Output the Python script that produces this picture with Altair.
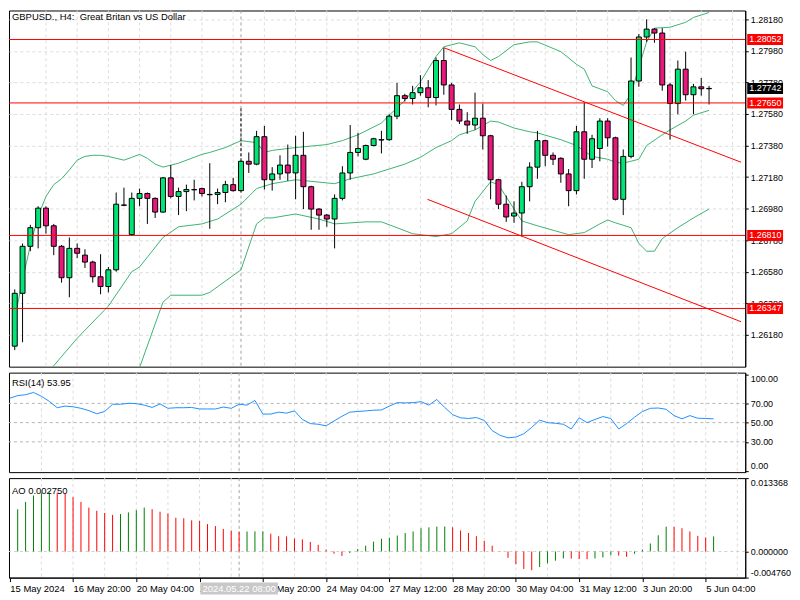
import altair as alt
import pandas as pd

# ---------------- data ----------------
TITLE = "GBPUSD., H4:\u00a0 Great Britan vs US Dollar"

opens = [1.26108, 1.26443, 1.26741, 1.26859, 1.26983, 1.26871, 1.26741, 1.26542, 1.26728, 1.26685,
         1.26641, 1.26548, 1.26486, 1.26592, 1.27001, 1.26815, 1.27045, 1.27076, 1.27045, 1.26958,
         1.27175, 1.27057, 1.27088, 1.27101, 1.27107, 1.27070, 1.27070, 1.27082, 1.27132, 1.27094,
         1.27280, 1.27262, 1.27436, 1.27163, 1.27200, 1.27256, 1.27206, 1.27318, 1.27119, 1.26977,
         1.26939, 1.26914, 1.27045, 1.27206, 1.27336, 1.27293, 1.27380, 1.27417, 1.27417, 1.27566,
         1.27696, 1.27678, 1.27715, 1.27746, 1.27684, 1.27919, 1.27764, 1.27609, 1.27535, 1.27510,
         1.27553, 1.27442, 1.27163, 1.27008, 1.26933, 1.26952, 1.27119, 1.27243, 1.27411, 1.27318,
         1.27299, 1.27200, 1.27094, 1.27467, 1.27293, 1.27361, 1.27535, 1.27429, 1.27039, 1.27311,
         1.27789, 1.28068, 1.28118, 1.28093, 1.27764, 1.27646, 1.27864, 1.27702, 1.27752, 1.27740]
highs = [1.26468, 1.26759, 1.26877, 1.26995, 1.26995, 1.26883, 1.26750, 1.26797, 1.26759, 1.26722,
         1.26650, 1.26691, 1.26610, 1.27082, 1.27113, 1.27082, 1.27107, 1.27082, 1.27051, 1.27181,
         1.27256, 1.27113, 1.27132, 1.27163, 1.27113, 1.27268, 1.27107, 1.27156, 1.27175, 1.27293,
         1.27336, 1.27473, 1.27504, 1.27243, 1.27318, 1.27386, 1.27442, 1.27467, 1.27125, 1.26983,
         1.26946, 1.27070, 1.27249, 1.27510, 1.27460, 1.27386, 1.27429, 1.27473, 1.27578, 1.27777,
         1.27708, 1.27758, 1.27826, 1.27795, 1.27938, 1.28000, 1.27777, 1.27640, 1.27591, 1.27715,
         1.27646, 1.27448, 1.27169, 1.27063, 1.27026, 1.27150, 1.27274, 1.27473, 1.27417, 1.27336,
         1.27305, 1.27231, 1.27504, 1.27653, 1.27448, 1.27553, 1.27553, 1.27436, 1.27355, 1.27938,
         1.28087, 1.28180, 1.28124, 1.28124, 1.27777, 1.27919, 1.27975, 1.27771, 1.27808, 1.27758]
lows = [1.26083, 1.26133, 1.26710, 1.26728, 1.26821, 1.26685, 1.26511, 1.26418, 1.26666, 1.26604,
        1.26511, 1.26437, 1.26449, 1.26580, 1.26995, 1.26810, 1.26995, 1.26883, 1.26921, 1.26955,
        1.27045, 1.26939, 1.26964, 1.27032, 1.27057, 1.26852, 1.27008, 1.27020, 1.27088, 1.27082,
        1.27206, 1.27255, 1.27101, 1.27094, 1.27163, 1.27156, 1.27039, 1.26977, 1.26846, 1.26846,
        1.26865, 1.26728, 1.27032, 1.27163, 1.27311, 1.27287, 1.27375, 1.27330, 1.27410, 1.27547,
        1.27659, 1.27640, 1.27696, 1.27622, 1.27634, 1.27702, 1.27541, 1.27516, 1.27454, 1.27479,
        1.27355, 1.27039, 1.26977, 1.26896, 1.26890, 1.26803, 1.27026, 1.27169, 1.27249, 1.27256,
        1.27144, 1.26995, 1.27070, 1.27169, 1.27237, 1.27280, 1.27373, 1.27032, 1.26939, 1.27299,
        1.27752, 1.28037, 1.28031, 1.27727, 1.27417, 1.27578, 1.27665, 1.27578, 1.27696, 1.27640]
closes = [1.26443, 1.26741, 1.26859, 1.26983, 1.26871, 1.26741, 1.26542, 1.26728, 1.26697, 1.26641,
          1.26548, 1.26486, 1.26592, 1.27008, 1.27003, 1.27045, 1.27076, 1.27045, 1.26958, 1.27175,
          1.27057, 1.27088, 1.27101, 1.27099, 1.27076, 1.27068, 1.27082, 1.27132, 1.27094, 1.27280,
          1.27262, 1.27436, 1.27163, 1.27200, 1.27256, 1.27206, 1.27318, 1.27119, 1.26977, 1.26939,
          1.26914, 1.27045, 1.27206, 1.27336, 1.27361, 1.27380, 1.27423, 1.27415, 1.27566, 1.27696,
          1.27678, 1.27715, 1.27746, 1.27684, 1.27919, 1.27764, 1.27609, 1.27535, 1.27510, 1.27553,
          1.27442, 1.27163, 1.27008, 1.26927, 1.26952, 1.27119, 1.27243, 1.27411, 1.27318, 1.27293,
          1.27200, 1.27094, 1.27467, 1.27293, 1.27423, 1.27535, 1.27429, 1.27039, 1.27311, 1.27789,
          1.28068, 1.28118, 1.28093, 1.27764, 1.27646, 1.27864, 1.27702, 1.27752, 1.27740, 1.27742]

# Bollinger bands (read at these bar indices)
ub_i = [0, 1, 2, 3, 4, 5, 6, 7, 8, 9, 10, 11, 12, 13, 14, 15, 16, 17, 18, 19, 21, 24, 25, 27, 29, 31, 32, 33,
        36, 40, 42, 44, 47, 48, 50, 52, 53, 54, 55, 57, 59, 60, 61, 62, 64, 66, 67, 70, 72, 73, 74, 76, 77,
        78, 79, 80, 81, 82, 84, 86, 87, 89]
ub_v = [1.26282, 1.26530, 1.26747, 1.26933, 1.27057, 1.27132, 1.27169, 1.27225, 1.27287, 1.27311, 1.27318,
        1.27318, 1.27311, 1.27299, 1.27287, 1.27305, 1.27324, 1.27299, 1.27262, 1.27243, 1.27268, 1.27324,
        1.27336, 1.27367, 1.27411, 1.27398, 1.27336, 1.27349, 1.27367, 1.27386, 1.27411, 1.27448, 1.27522,
        1.27572, 1.27665, 1.27783, 1.27864, 1.27944, 1.28006, 1.28031, 1.28006, 1.27957, 1.27919, 1.27944,
        1.28019, 1.28037, 1.28037, 1.27975, 1.27895, 1.27864, 1.27758, 1.27721, 1.27665, 1.27634, 1.27708,
        1.27876, 1.28037, 1.28124, 1.28130, 1.28161, 1.28192, 1.28223]
mb_i = [4, 5, 8, 12, 15, 16, 19, 21, 24, 26, 29, 31, 33, 36, 41, 43, 46, 48, 50, 52, 54, 56, 57, 59, 61, 62,
        64, 66, 67, 70, 72, 74, 76, 77, 78, 80, 81, 83, 84, 86, 87, 89]
mb_v = [1.25910, 1.25984, 1.26158, 1.26362, 1.26580, 1.26610, 1.26797, 1.26865, 1.26883, 1.26914, 1.27008,
        1.27107, 1.27138, 1.27163, 1.27138, 1.27169, 1.27200, 1.27231, 1.27262, 1.27305, 1.27367, 1.27411,
        1.27448, 1.27479, 1.27535, 1.27529, 1.27491, 1.27467, 1.27460, 1.27417, 1.27380, 1.27311, 1.27293,
        1.27274, 1.27268, 1.27293, 1.27380, 1.27448, 1.27479, 1.27535, 1.27572, 1.27603]
lb_i = [15, 16, 19, 20, 24, 25, 29, 31, 32, 33, 36, 39, 41, 45, 47, 49, 51, 54, 56, 58, 59, 61, 62, 64, 65,
        67, 71, 73, 75, 76, 77, 79, 80, 81, 82, 83, 85, 87, 89]
lb_v = [1.25785, 1.25972, 1.26387, 1.26431, 1.26431, 1.26449, 1.26592, 1.26883, 1.26921, 1.26921, 1.26946,
        1.26914, 1.26883, 1.26896, 1.26896, 1.26859, 1.26821, 1.26803, 1.26821, 1.26902, 1.27026, 1.27150,
        1.27132, 1.26977, 1.26902, 1.26871, 1.26815, 1.26828, 1.26883, 1.26908, 1.26890, 1.26859, 1.26759,
        1.26710, 1.26710, 1.26790, 1.26859, 1.26921, 1.26977]

levels = [1.28052, 1.27650, 1.26810, 1.26347]
trend_line = ["upper", "upper", "lower", "lower"]
trend_i = [55.0, 93.1, 52.9, 93.1]
trend_p = [1.28000, 1.27274, 1.27039, 1.26263]

price_ticks = [1.26180, 1.26380, 1.26580, 1.26780, 1.26980, 1.27180, 1.27380, 1.27580, 1.27780, 1.27980, 1.28180]

rsi = [75.4, 78.1, 79.0, 81.4, 77.4, 72.1, 65.5, 67.2, 66.5, 64.9,
       62.5, 59.2, 61.6, 69.1, 69.1, 70.1, 69.8, 68.2, 65.8, 69.5,
       64.9, 65.5, 65.5, 65.8, 64.2, 64.2, 64.2, 66.2, 64.9, 69.1,
       68.2, 73.1, 58.9, 58.9, 60.9, 59.9, 62.2, 53.3, 49.0, 48.3,
       46.7, 51.7, 56.6, 60.9, 61.6, 62.2, 62.9, 63.2, 67.2, 70.8,
       70.5, 70.8, 71.8, 68.2, 74.1, 65.8, 58.3, 55.0, 54.3, 55.3,
       52.3, 41.7, 36.8, 34.2, 35.0, 38.4, 45.0, 52.6, 50.0, 49.3,
       48.3, 43.4, 55.0, 50.0, 53.3, 56.3, 54.3, 43.4, 49.0, 55.6,
       61.6, 64.9, 65.2, 63.9, 57.3, 54.0, 57.3, 54.6, 54.3, 53.95]
rsi_levels = [30, 50, 70]
rsi_ticks = [0, 30, 50, 70, 100]

ao_start = 1
ao = [0.00770, 0.00903, 0.01019, 0.01071, 0.01075, 0.01068, 0.01062, 0.00990, 0.00903, 0.00799,
      0.00741, 0.00701, 0.00666, 0.00683, 0.00712, 0.00753, 0.00799, 0.00770, 0.00724, 0.00695,
      0.00614, 0.00605, 0.00567, 0.00556, 0.00498, 0.00463, 0.00411, 0.00382, 0.00362, 0.00364,
      0.00366, 0.00368, 0.00324, 0.00278, 0.00276, 0.00237, 0.00220, 0.00174, 0.00122, 0.00035,
      -0.00041, -0.00081, -0.00029, 0.00046, 0.00104, 0.00179, 0.00232, 0.00249, 0.00290, 0.00336,
      0.00365, 0.00423, 0.00440, 0.00452, 0.00454, 0.00440, 0.00382, 0.00336, 0.00278, 0.00191,
      0.00104, -0.00005, -0.00116, -0.00232, -0.00318, -0.00342, -0.00284, -0.00214, -0.00168, -0.00127,
      -0.00130, -0.00139, -0.00141, -0.00127, -0.00110, -0.00069, -0.00075, -0.00098, -0.00041, 0.00035,
      0.00145, 0.00295, 0.00452, 0.00448, 0.00423, 0.00365, 0.00285, 0.00255, 0.00275]
ao_ticks = [-0.004760, 0.0, 0.013368]

tick_idx = [0, 8, 16, 24, 32, 40, 48, 56, 64, 72, 80, 88]
date_labels = ["15 May 2024", "16 May 20:00", "20 May 04:00", "21 May 12:00", "22 May 20:00",
               "24 May 04:00", "27 May 12:00", "28 May 20:00", "30 May 04:00", "31 May 12:00",
               "3 Jun 20:00", "5 Jun 04:00"]
grid_idx = list(range(4, 93, 4))

cursor_i = 29
cursor_top = 1.27615
cursor_label = "2024.05.22 08:00"
rsi_title = "RSI(14) 53.95"
ao_title = "AO 0.002750"

# ---------------- styling ----------------
W, H1, H2, H3 = 740, 358, 100, 100
FONT = "Liberation Sans"
GRID = "#dcdcdc"
UP, DOWN = "#00E676", "#E8197A"
BAND = "#3CB371"
RED = "#FF0000"

xs = alt.Scale(domain=[-0.1, 93.0], nice=False, zero=False)
ys = alt.Scale(domain=[1.25978, 1.28236], nice=False, zero=False)
xn = alt.X("i:Q", scale=xs, axis=None)

price_axis = alt.Axis(orient="right", values=price_ticks, format=".5f", grid=True, gridColor=GRID,
                      gridDash=[3, 3], title=None, tickSize=3, labelPadding=2, labelFontSize=9,
                      labelFont=FONT, domainColor="black", tickColor="black", labelColor="black")


def Y(f):
    return alt.Y(f, type="quantitative", scale=ys, axis=price_axis)


BOX = "M-1,-0.3056L1,-0.3056L1,0.3056L-1,0.3056Z"

# ---------------- main pane ----------------
candles = pd.DataFrame({"i": list(range(len(opens))), "o": opens, "h": highs, "l": lows, "c": closes})
bands = pd.concat([
    pd.DataFrame({"i": ub_i, "p": ub_v, "band": "upper"}),
    pd.DataFrame({"i": mb_i, "p": mb_v, "band": "middle"}),
    pd.DataFrame({"i": lb_i, "p": lb_v, "band": "lower"}),
])
trends = pd.DataFrame({"i": trend_i, "p": trend_p, "line": trend_line})
grid_df = pd.DataFrame({"i": grid_idx})
cur_df = pd.DataFrame({"i": [cursor_i], "p1": [cursor_top], "p2": [highs[cursor_i]]})
lev_df = pd.DataFrame({"p": levels})
last_df = pd.DataFrame({"p": [closes[-1]]})
title_df = pd.DataFrame({"t": [TITLE]})

vgrid = alt.Chart(grid_df).mark_rule(color=GRID, strokeDash=[3, 3], strokeWidth=1).encode(x=xn)
cursor = alt.Chart(cur_df).mark_rule(color="#a0a0a0", strokeDash=[3, 3], strokeWidth=1).encode(x=xn)
band_lines = alt.Chart(bands).mark_line(color=BAND, strokeWidth=1, clip=True).encode(
    x=xn, y=Y("p"), detail="band:N")
wicks = alt.Chart(candles).mark_rule(color="black", strokeWidth=1, clip=True).encode(
    x=xn, y=Y("l"), y2="h")
bodies = alt.Chart(candles).mark_bar(size=5, stroke="black", strokeWidth=1, clip=True).encode(
    x=xn, y=Y("o"), y2="c",
    fill=alt.condition("datum.c >= datum.o", alt.value(UP), alt.value(DOWN)))
cursor_blk = alt.Chart(cur_df).mark_rule(color="black", strokeDash=[3, 2], strokeWidth=1).encode(
    x=xn, y=Y("p1"), y2="p2")
hlines = alt.Chart(lev_df).mark_rule(color=RED, strokeWidth=1).encode(y=Y("p"))
tlines = alt.Chart(trends).mark_line(color=RED, strokeWidth=1, clip=True).encode(
    x=xn, y=Y("p"), detail="line:N")
box_red = alt.Chart(lev_df).mark_point(shape=BOX, size=36 * 36, filled=True, color=RED, opacity=1,
                                       strokeOpacity=0).encode(x=alt.value(W + 20), y=Y("p"))
txt_red = alt.Chart(lev_df).mark_text(align="left", baseline="middle", color="white", fontSize=9,
                                      font=FONT).encode(x=alt.value(W + 4), y=Y("p"),
                                                        text=alt.Text("p:Q", format=".5f"))
box_blk = alt.Chart(last_df).mark_point(shape=BOX, size=36 * 36, filled=True, color="black", opacity=1,
                                        strokeOpacity=0).encode(x=alt.value(W + 20), y=Y("p"))
txt_blk = alt.Chart(last_df).mark_text(align="left", baseline="middle", color="white", fontSize=9,
                                       font=FONT).encode(x=alt.value(W + 4), y=Y("p"),
                                                         text=alt.Text("p:Q", format=".5f"))
title = alt.Chart(title_df).mark_text(align="left", baseline="middle", fontSize=9.5, font=FONT,
                                      color="black").encode(x=alt.value(3), y=alt.value(7), text="t:N")

main = alt.layer(vgrid, cursor, band_lines, wicks, bodies, cursor_blk, hlines, tlines,
                 box_red, txt_red, box_blk, txt_blk, title).properties(width=W, height=H1)

# ---------------- RSI pane ----------------
ry = alt.Scale(domain=[-1.5, 102], nice=False, zero=False)
rsi_axis = alt.Axis(orient="right", values=rsi_ticks, format=".2f", grid=False, title=None, tickSize=3,
                    labelPadding=2, labelFontSize=9, labelFont=FONT, labelFlush=6,
                    domainColor="black", tickColor="black", labelColor="black")


def RY(f):
    return alt.Y(f, type="quantitative", scale=ry, axis=rsi_axis)


rsi_df = pd.DataFrame({"i": list(range(len(rsi))), "v": rsi})
rl_df = pd.DataFrame({"v": rsi_levels})
rsi_chart = alt.layer(
    alt.Chart(grid_df).mark_rule(color=GRID, strokeDash=[3, 3]).encode(x=xn),
    alt.Chart(cur_df).mark_rule(color="#a0a0a0", strokeDash=[3, 3]).encode(x=xn),
    alt.Chart(rl_df).mark_rule(color="#b4b4b4", strokeDash=[3, 3]).encode(y=RY("v")),
    alt.Chart(rsi_df).mark_line(color="#1E90FF", strokeWidth=1, clip=True).encode(x=xn, y=RY("v")),
    alt.Chart(pd.DataFrame({"t": [rsi_title]})).mark_text(align="left", baseline="middle", fontSize=9.5,
                                                          font=FONT, color="black").encode(
        x=alt.value(3), y=alt.value(10), text="t:N"),
).properties(width=W, height=H2)

# ---------------- AO pane ----------------
ay = alt.Scale(domain=[ao_ticks[0], ao_ticks[-1]], nice=False, zero=False)
ao_axis = alt.Axis(orient="right", values=ao_ticks, format=".6f", grid=False, title=None, tickSize=3,
                   labelPadding=2, labelFontSize=9, labelFont=FONT, labelFlush=6,
                   labelExpr="replace(datum.label, '\u2212', '-')",
                   domainColor="black", tickColor="black", labelColor="black")
date_expr = "[" + ",".join("'" + s + "'" for s in date_labels) + "][round(datum.value / 8)]"
ao_xaxis = alt.Axis(values=tick_idx, labelExpr=date_expr, title=None, grid=False, labelAlign="left",
                    labelPadding=2, tickSize=4, labelFontSize=9.5, labelFont=FONT, labelFlush=False,
                    labelOverlap=False, domainColor="black", tickColor="black", labelColor="black")
xa = alt.X("i:Q", scale=xs, axis=ao_xaxis)


def AY(f):
    return alt.Y(f, type="quantitative", scale=ay, axis=ao_axis)


ao_dir = ["up"] + ["up" if ao[k] > ao[k - 1] else "down" for k in range(1, len(ao))]
ao_df = pd.DataFrame({"i": list(range(ao_start, ao_start + len(ao))), "v": ao, "d": ao_dir})
clab_df = pd.DataFrame({"i": [cursor_i], "t": [cursor_label]})
CBOX = "M-1,-0.1538L1,-0.1538L1,0.1538L-1,0.1538Z"

ao_chart = alt.layer(
    alt.Chart(grid_df).mark_rule(color=GRID, strokeDash=[3, 3]).encode(x=xa),
    alt.Chart(cur_df).mark_rule(color="#a0a0a0", strokeDash=[3, 3]).encode(x=xa),
    alt.Chart(pd.DataFrame({"v": [0.0]})).mark_rule(color="#d0d0d0", strokeDash=[3, 3]).encode(y=AY("v")),
    alt.Chart(ao_df).mark_rule(strokeWidth=1).encode(
        x=xa, y=AY("v"), y2=alt.datum(0),
        color=alt.Color("d:N", scale=alt.Scale(domain=["up", "down"], range=["#008000", "#FF0000"]),
                        legend=None)),
    alt.Chart(pd.DataFrame({"t": [ao_title]})).mark_text(align="left", baseline="middle", fontSize=9.5,
                                                         font=FONT, color="black").encode(
        x=alt.value(3), y=alt.value(13), text="t:N"),
    alt.Chart(clab_df).mark_point(shape=CBOX, size=78 * 78, filled=True, color="#c8c8c8", opacity=1,
                                  strokeOpacity=0).encode(x=xa, y=alt.value(H3 + 11)),
    alt.Chart(clab_df).mark_text(align="center", baseline="middle", fontSize=9.5, font=FONT,
                                 color="white").encode(x=xa, y=alt.value(H3 + 11), text="t:N"),
).properties(width=W, height=H3)

chart = alt.vconcat(main, rsi_chart, ao_chart, spacing=4).properties(
    padding=0, background="white"
).configure_view(stroke="black", strokeWidth=1).configure_axis(labelFont=FONT)

chart.save("out.html", embed_options={"renderer": "svg", "actions": False})
